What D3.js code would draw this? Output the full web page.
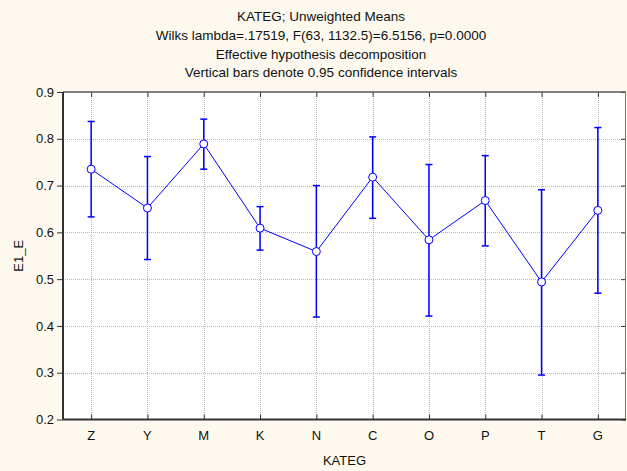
<!DOCTYPE html>
<html>
<head>
<meta charset="utf-8">
<script src="https://cdn.jsdelivr.net/npm/d3@7"></script>
<style>
  html, body { margin: 0; padding: 0; background: #fdf9ee; }
  svg { display: block; font-family: "Liberation Sans", Arial, sans-serif; }
</style>
</head>
<body>
<svg id="chart" width="627" height="471"></svg>
<script>
// Category levels of KATEG
const categories = ["Z", "Y", "M", "K", "N", "C", "O", "P", "T", "G"];
// Unweighted means of E1_E per category
const means = [0.735, 0.652, 0.789, 0.609, 0.559, 0.718, 0.584, 0.668, 0.494, 0.647];
// 0.95 confidence limits
const lower = [0.633, 0.542, 0.735, 0.562, 0.419, 0.630, 0.421, 0.571, 0.295, 0.470];
const upper = [0.837, 0.762, 0.842, 0.655, 0.700, 0.804, 0.745, 0.764, 0.691, 0.824];
const yTicks = [0.2, 0.3, 0.4, 0.5, 0.6, 0.7, 0.8, 0.9];
const titleLines = [
  "KATEG; Unweighted Means",
  "Wilks lambda=.17519, F(63, 1132.5)=6.5156, p=0.0000",
  "Effective hypothesis decomposition",
  "Vertical bars denote 0.95 confidence intervals"
];

const svg = d3.select("#chart");
const m = { left: 63, right: 626, top: 92, bottom: 419.5 };
const blue = "#0000ff";

const x = d3.scalePoint().domain(categories).range([m.left, m.right]).padding(0.5);
const y = d3.scaleLinear().domain([0.2, 0.9]).range([m.bottom, m.top]);

const rows = categories.map((c, i) => ({ c, mean: means[i], lo: lower[i], hi: upper[i] }));

// plot area
svg.append("rect")
  .attr("x", m.left).attr("y", m.top)
  .attr("width", m.right - m.left).attr("height", m.bottom - m.top)
  .attr("fill", "#ffffff");

// dotted grid
const grid = svg.append("g").attr("stroke", "#b8b8b8").attr("stroke-width", 1)
  .attr("stroke-dasharray", "1,1");
grid.selectAll("line.h").data(yTicks.slice(1, -1)).join("line")
  .attr("x1", m.left).attr("x2", m.right)
  .attr("y1", d => Math.round(y(d)) + 0.5).attr("y2", d => Math.round(y(d)) + 0.5);
grid.selectAll("line.v").data(categories).join("line")
  .attr("y1", m.top).attr("y2", m.bottom)
  .attr("x1", d => Math.round(x(d)) + 0.5).attr("x2", d => Math.round(x(d)) + 0.5);

// axes
const fmt = d3.format(".1f");
const yAxisL = svg.append("g").attr("transform", `translate(${m.left},0)`)
  .call(d3.axisLeft(y).tickValues(yTicks).tickFormat(fmt).tickSize(6).tickPadding(3));
const yAxisR = svg.append("g").attr("transform", `translate(${m.right},0)`)
  .call(d3.axisLeft(y).tickValues(yTicks).tickFormat("").tickSize(5));
const xAxisB = svg.append("g").attr("transform", `translate(0,${m.bottom})`)
  .call(d3.axisTop(x).tickSize(5).tickFormat(""));
const xAxisT = svg.append("g").attr("transform", `translate(0,${m.top})`)
  .call(d3.axisBottom(x).tickSize(5).tickFormat(""));
[yAxisL, yAxisR, xAxisB, xAxisT].forEach(g => {
  g.select(".domain").remove();
  g.selectAll(".tick line").attr("stroke", "#333");
});
yAxisL.selectAll(".tick text").attr("font-size", 13).attr("fill", "#111")
  .attr("font-family", "Liberation Sans, Arial, sans-serif");

// category labels
svg.append("g").selectAll("text").data(categories).join("text")
  .attr("x", d => x(d)).attr("y", 440)
  .attr("text-anchor", "middle").attr("font-size", 13).attr("fill", "#111")
  .text(d => d);

// frame
svg.append("line").attr("x1", m.left).attr("x2", m.right).attr("y1", m.top).attr("y2", m.top)
  .attr("stroke", "#555").attr("stroke-width", 1.5);
svg.append("line").attr("x1", m.right - 0.5).attr("x2", m.right - 0.5).attr("y1", m.top).attr("y2", m.bottom)
  .attr("stroke", "#777").attr("stroke-width", 1);
svg.append("line").attr("x1", m.left).attr("x2", m.left).attr("y1", m.top).attr("y2", m.bottom)
  .attr("stroke", "#333").attr("stroke-width", 2);
svg.append("line").attr("x1", m.left).attr("x2", m.right).attr("y1", m.bottom).attr("y2", m.bottom)
  .attr("stroke", "#333").attr("stroke-width", 2);

// confidence interval bars
const eb = svg.append("g").attr("stroke", blue);
eb.selectAll("line.bar").data(rows).join("line")
  .attr("stroke-width", 1.5)
  .attr("x1", d => x(d.c)).attr("x2", d => x(d.c))
  .attr("y1", d => y(d.lo)).attr("y2", d => y(d.hi));
eb.selectAll("line.capHi").data(rows).join("line")
  .attr("stroke-width", 1.5)
  .attr("x1", d => x(d.c) - 3.5).attr("x2", d => x(d.c) + 3.5)
  .attr("y1", d => y(d.hi)).attr("y2", d => y(d.hi));
eb.selectAll("line.capLo").data(rows).join("line")
  .attr("stroke-width", 1.5)
  .attr("x1", d => x(d.c) - 3.5).attr("x2", d => x(d.c) + 3.5)
  .attr("y1", d => y(d.lo)).attr("y2", d => y(d.lo));

// line through the means
svg.append("path").datum(rows)
  .attr("fill", "none").attr("stroke", blue).attr("stroke-width", 1)
  .attr("d", d3.line().x(d => x(d.c)).y(d => y(d.mean)));

// mean markers
svg.append("g").selectAll("circle").data(rows).join("circle")
  .attr("cx", d => x(d.c)).attr("cy", d => y(d.mean)).attr("r", 4)
  .attr("fill", "#ffffff").attr("stroke", blue).attr("stroke-width", 1);

// titles
svg.append("g").selectAll("text").data(titleLines).join("text")
  .attr("x", 321).attr("y", (d, i) => 21 + i * 18.8)
  .attr("text-anchor", "middle").attr("font-size", 13.5).attr("fill", "#111")
  .text(d => d);

// axis titles
svg.append("text").attr("x", (m.left + m.right) / 2).attr("y", 465)
  .attr("text-anchor", "middle").attr("font-size", 13).attr("fill", "#111")
  .text("KATEG");
svg.append("text")
  .attr("transform", `translate(23,${(m.top + m.bottom) / 2}) rotate(-90)`)
  .attr("text-anchor", "middle").attr("font-size", 13).attr("fill", "#111")
  .text("E1_E");
</script>
</body>
</html>
